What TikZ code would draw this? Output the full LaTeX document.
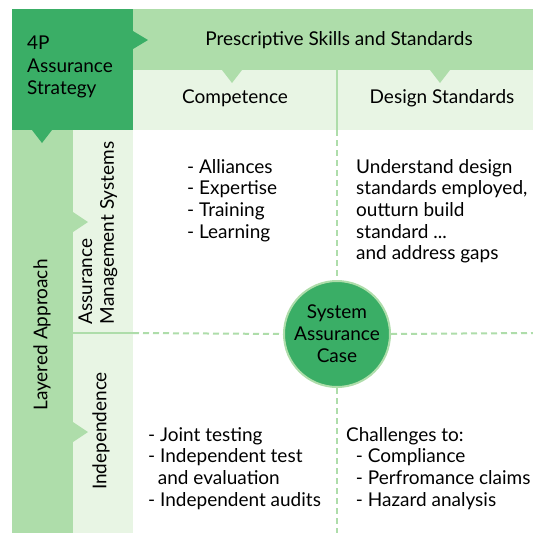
\documentclass[tikz,border=0pt]{standalone}
\usepackage{fontspec}
\setmainfont{Lato}
\definecolor{dg}{HTML}{3AAE66}
\definecolor{lg}{HTML}{AEDDAA}
\definecolor{vlg}{HTML}{E8F5E4}
\begin{document}
\begin{tikzpicture}[x=1pt,y=-1pt,
  every node/.style={font=\fontsize{19}{21.7}\selectfont, inner sep=0pt, text=black},
  sep/.style={draw=lg, line width=2pt},
  dsep/.style={draw=lg, line width=2pt, dash pattern=on 6pt off 4pt},
  listtxt/.style={align=left, anchor=north west}]
\useasboundingbox (0,0) rectangle (533,533);
\fill[white] (0,0) rectangle (533,533);
% panels
\fill[lg] (133,9) rectangle (533,70);
\fill[vlg] (133,70) rectangle (533,130);
\fill[lg] (12,130) rectangle (73,533);
\fill[vlg] (73,130) rectangle (133,533);
\fill[dg] (12,9) rectangle (133,130);
% pointers
\fill[dg] (133,31) -- (148,40) -- (133,49) -- cycle;
\fill[dg] (32,130) -- (42,143) -- (52,130) -- cycle;
\fill[lg] (222,70) -- (232,83) -- (242,70) -- cycle;
\fill[lg] (430,70) -- (440,83) -- (450,70) -- cycle;
\fill[lg] (73,212) -- (88,222) -- (73,232) -- cycle;
\fill[lg] (73,422) -- (88,432) -- (73,442) -- cycle;
% separators
\coordinate (vt) at (337,70);
\coordinate (vm) at (337,130);
\coordinate (vb) at (337,533);
\coordinate (hl) at (73,333);
\coordinate (hm) at (133,333);
\coordinate (hr) at (533,333);
\draw[sep] (vt) -- (vm);
\draw[sep] (hl) -- (hm);
\node[circle, fill=dg, draw=lg, line width=2pt, minimum size=106pt, align=center,
      font=\fontsize{19}{22}\selectfont] (sac) at (337,334) {System\\Assurance\\Case};
\draw[dsep] (vm) -- (sac.north);
\draw[dsep] (sac.south) -- (vb);
\draw[dsep] (hm) -- (sac.west);
\draw[dsep] (sac.east) -- (hr);
% headers
\node[align=left, anchor=north west, font=\fontsize{19}{22.5}\selectfont] (strat) at (27,36) {4P\\Assurance\\Strategy};
\node (pss) at (339,40) {Prescriptive Skills and Standards};
\node (comp) at (235,98) {Competence};
\node (des) at (442,98) {Design Standards};
\node[rotate=90] (lay) at (42,335) {Layered Approach};
\node[rotate=90, align=left] (ams) at (98,233) {Assurance\\Management Systems};
\node[rotate=90] (ind) at (101,431) {Independence};
% cell texts
\node[listtxt] (l1) at (187,159) {- Alliances\\- Expertise\\- Training\\- Learning};
\node[listtxt] (l2) at (356,159) {Understand design\\standards employed,\\outturn build\\standard ...\\and address gaps};
\node[listtxt] (l3) at (148,427) {- Joint testing\\- Independent test\\\ \ and evaluation\\- Independent audits};
\node[listtxt] (l4) at (346,427) {Challenges to:\\\ \ - Compliance\\\ \ - Perfromance claims\\\ \ - Hazard analysis};
\end{tikzpicture}
\end{document}
